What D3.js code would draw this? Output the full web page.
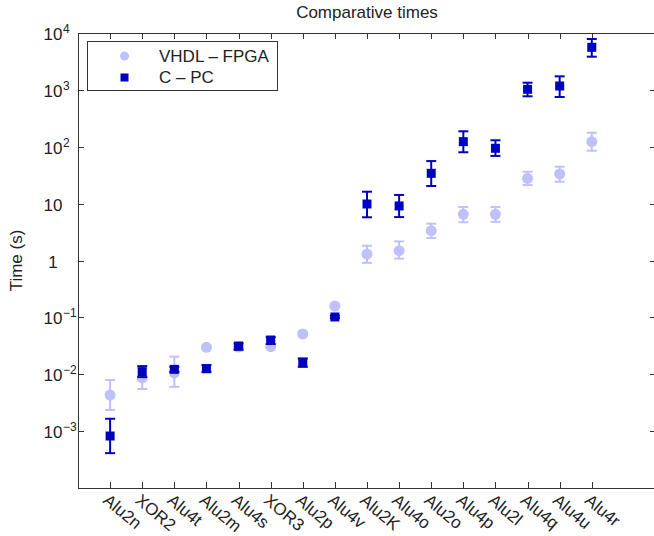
<!DOCTYPE html>
<html>
<head>
<meta charset="utf-8">
<script src="https://cdn.jsdelivr.net/npm/d3@7"></script>
<style>
body { margin: 0; background: #fff; }
text { font-family: "Liberation Sans", Arial, sans-serif; fill: #222; }
</style>
</head>
<body>
<svg id="chart" width="654" height="536"></svg>
<script>
// categories along x
var categories = ["Alu2n", "XOR2", "Alu4t", "Alu2m", "Alu4s", "XOR3", "Alu2p", "Alu4v",
                  "Alu2K", "Alu4o", "Alu2o", "Alu4p", "Alu2l", "Alu4q", "Alu4u", "Alu4r"];

// VHDL - FPGA (mean, lower, upper), seconds
var fpgaTime = [0.0043, 0.0086, 0.0106, 0.0298, 0.030, 0.0305, 0.051, 0.158,
                1.30, 1.49, 3.34, 6.5, 6.5, 27.9, 33.2, 123];
var fpgaLow  = [0.00235, 0.0055, 0.0060, 0.028, 0.028, 0.029, 0.048, 0.150,
                0.91, 1.08, 2.49, 4.7, 4.8, 21.2, 24.3, 85];
var fpgaHigh = [0.0079, 0.013, 0.0204, 0.032, 0.033, 0.033, 0.054, 0.167,
                1.82, 2.17, 4.44, 8.7, 8.7, 36.4, 44.6, 176];

// C - PC (mean, lower, upper), seconds
var pcTime = [0.00082, 0.0111, 0.0122, 0.0125, 0.0314, 0.040, 0.016, 0.1016,
              9.85, 9.1, 34.1, 123, 94, 1023, 1170, 5600];
var pcLow  = [0.00041, 0.0089, 0.011, 0.011, 0.027, 0.034, 0.0135, 0.097,
              5.75, 5.8, 20.4, 80, 69, 771, 750, 3830];
var pcHigh = [0.00165, 0.0139, 0.0135, 0.0145, 0.035, 0.045, 0.019, 0.107,
              16.2, 14.2, 56, 187, 130, 1337, 1730, 7850];

// y tick labels (base + exponent, matlab style)
var yTicks   = [1e-3, 1e-2, 1e-1, 1, 10, 1e2, 1e3, 1e4];
var yTickBase = ["10", "10", "10", "1", "10", "10", "10", "10"];
var yTickExp  = ["\u22123", "\u22122", "\u22121", "", "", "2", "3", "4"];

var seriesNames = ["VHDL \u2013 FPGA", "C \u2013 PC"];
var lightColor = "#c0c0ff", darkColor = "#0000c0";

var plotLeft = 78, plotRight = 656, plotTop = 33, plotBottom = 488;

var svg = d3.select("#chart");

var x = d3.scaleLinear().domain([0, categories.length + 2]).range([plotLeft, plotRight]);
var y = d3.scaleLog().domain([1e-4, 1e4]).range([plotBottom, plotTop]);

// frame
svg.append("rect")
    .attr("x", plotLeft + 0.5).attr("y", plotTop + 0.5)
    .attr("width", plotRight - plotLeft).attr("height", plotBottom - plotTop)
    .attr("fill", "none").attr("stroke", "#333").attr("stroke-width", 1);

// ticks (inward, on all four sides)
var ticksG = svg.append("g").attr("stroke", "#333").attr("stroke-width", 1);
categories.forEach(function(c, i) {
    var xx = Math.round(x(i + 1)) + 0.5;
    ticksG.append("line").attr("x1", xx).attr("x2", xx).attr("y1", plotBottom).attr("y2", plotBottom - 6);
    ticksG.append("line").attr("x1", xx).attr("x2", xx).attr("y1", plotTop).attr("y2", plotTop + 6);
});
yTicks.forEach(function(t) {
    var yy = Math.round(y(t)) + 0.5;
    ticksG.append("line").attr("x1", plotLeft).attr("x2", plotLeft + 6).attr("y1", yy).attr("y2", yy);
    ticksG.append("line").attr("x1", plotRight).attr("x2", plotRight - 6).attr("y1", yy).attr("y2", yy);
});

// y tick labels: base centred, exponent hanging to the right
yTicks.forEach(function(t, i) {
    var yy = y(t);
    var base = svg.append("text")
        .attr("x", 53).attr("y", yy + 7)
        .attr("text-anchor", "middle")
        .style("font-size", "17px")
        .text(yTickBase[i]);
    if (yTickExp[i] != "") {
        var w = base.node().getComputedTextLength();
        svg.append("text")
            .attr("x", 53 + w / 2 + 0.5).attr("y", yy)
            .style("font-size", "12px")
            .text(yTickExp[i]);
    }
});

// x tick labels, rotated
categories.forEach(function(c, i) {
    svg.append("text")
        .attr("transform", "translate(" + (x(i + 1) - 8) + "," + (plotBottom + 14) + ") rotate(40)")
        .style("font-size", "17px")
        .text(c);
});

// title + y label
svg.append("text")
    .attr("x", (plotLeft + plotRight) / 2).attr("y", 18)
    .attr("text-anchor", "middle")
    .style("font-size", "17px")
    .text("Comparative times");

svg.append("text")
    .attr("transform", "translate(22," + ((plotTop + plotBottom) / 2) + ") rotate(-90)")
    .attr("text-anchor", "middle")
    .style("font-size", "17px")
    .text("Time (s)");

// error bars
function drawErrors(low, high, color) {
    var g = svg.append("g").attr("stroke", color).attr("stroke-width", 2);
    low.forEach(function(lo, i) {
        var xx = x(i + 1);
        g.append("line").attr("x1", xx).attr("x2", xx).attr("y1", y(lo)).attr("y2", y(high[i]));
        g.append("line").attr("x1", xx - 5).attr("x2", xx + 5).attr("y1", y(lo)).attr("y2", y(lo));
        g.append("line").attr("x1", xx - 5).attr("x2", xx + 5).attr("y1", y(high[i])).attr("y2", y(high[i]));
    });
}

drawErrors(fpgaLow, fpgaHigh, lightColor);
svg.append("g").selectAll("circle")
    .data(fpgaTime)
    .enter().append("circle")
    .attr("cx", function(d, i) { return x(i + 1); })
    .attr("cy", function(d) { return y(d); })
    .attr("r", 5.5)
    .attr("fill", lightColor);

drawErrors(pcLow, pcHigh, darkColor);
svg.append("g").selectAll("rect")
    .data(pcTime)
    .enter().append("rect")
    .attr("x", function(d, i) { return x(i + 1) - 4.5; })
    .attr("y", function(d) { return y(d) - 4.5; })
    .attr("width", 9).attr("height", 9)
    .attr("fill", darkColor);

// legend
var legend = svg.append("g");
legend.append("rect")
    .attr("x", 87.5).attr("y", 41.5).attr("width", 190).attr("height", 49)
    .attr("fill", "#fff").attr("stroke", "#333");
legend.append("circle").attr("cx", 124.5).attr("cy", 56).attr("r", 4.5).attr("fill", lightColor);
legend.append("rect").attr("x", 120.5).attr("y", 73.5).attr("width", 8).attr("height", 8).attr("fill", darkColor);
legend.selectAll("text.leg")
    .data(seriesNames)
    .enter().append("text")
    .attr("class", "leg")
    .attr("x", 159)
    .attr("y", function(d, i) { return 62 + i * 21; })
    .style("font-size", "17px")
    .text(function(d) { return d; });
</script>
</body>
</html>
